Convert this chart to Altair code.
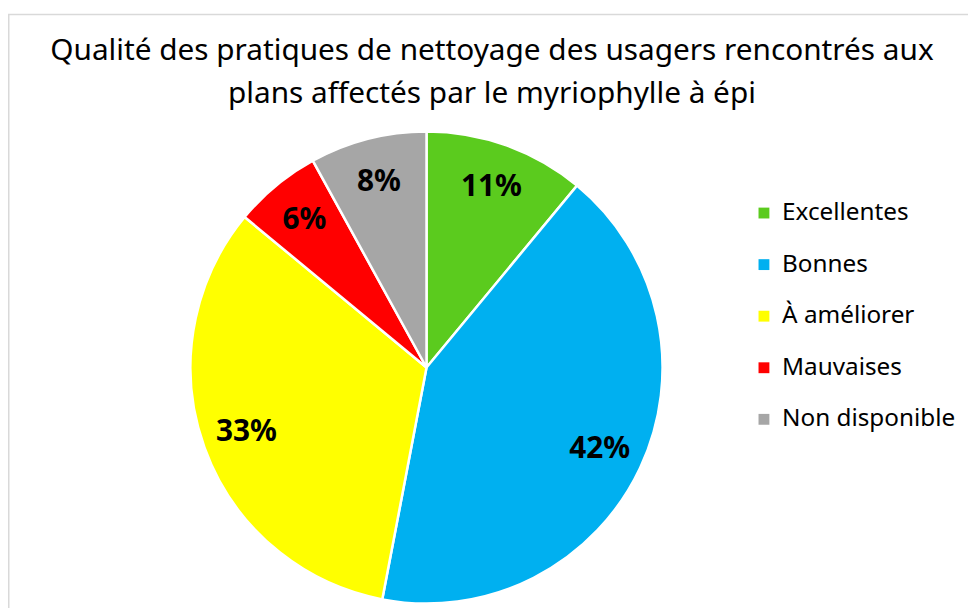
import altair as alt
import pandas as pd

categories = ["Excellentes", "Bonnes", "À améliorer", "Mauvaises", "Non disponible"]
values = [11, 42, 33, 6, 8]
labels = ["11%", "42%", "33%", "6%", "8%"]
colors = ["#5BCB1E", "#00B0F0", "#FFFF00", "#FF0000", "#A6A6A6"]
title_lines = ["Qualité des pratiques de nettoyage des usagers rencontrés aux",
               "plans affectés par le myriophylle à épi"]

df = pd.DataFrame({"cat": categories, "val": values, "lab": labels, "ord": range(len(categories))})

FONT = "Noto Sans"
CX, CY, R = 422, 360, 238

base = alt.Chart(df).encode(
    theta=alt.Theta("val:Q", stack=True),
    order=alt.Order("ord:Q"),
)

arcs = base.mark_arc(stroke="white", strokeWidth=2.5, radius=R).encode(
    x=alt.value(CX), y=alt.value(CY),
    color=alt.Color("cat:N", scale=alt.Scale(domain=categories, range=colors),
                    sort=categories,
                    legend=alt.Legend(title=None, orient="none", legendX=750, legendY=192,
                                      symbolType="square", symbolSize=120, symbolStrokeWidth=0,
                                      labelFontSize=24.5, labelFont=FONT, labelColor="#000000",
                                      labelLimit=400,
                                      rowPadding=27, labelOffset=6, symbolOffset=0)),
)

text = base.mark_text(radius=193, fontSize=30, fontWeight="bold", font=FONT, color="black").encode(
    x=alt.value(CX), y=alt.value(CY), text="lab:N",
)

tdf = pd.DataFrame({"t": [title_lines]})
title = alt.Chart(tdf).mark_text(fontSize=30, font=FONT, color="black", lineHeight=43,
                                 align="center", baseline="top").encode(
    x=alt.value(488), y=alt.value(26), text="t:N")

border = alt.Chart(pd.DataFrame({"a": [0]})).mark_rect(fill=None, stroke="#D9D9D9", strokeWidth=1.5).encode(
    x=alt.value(0.75), x2=alt.value(1000), y=alt.value(4), y2=alt.value(700))

chart = alt.layer(border, arcs, text, title).properties(
    width=968, height=600, autosize=alt.AutoSizeParams(type="none"), padding=0
).configure_view(stroke=None)

chart.save("out.html", embed_options={"renderer": "svg", "actions": False})
